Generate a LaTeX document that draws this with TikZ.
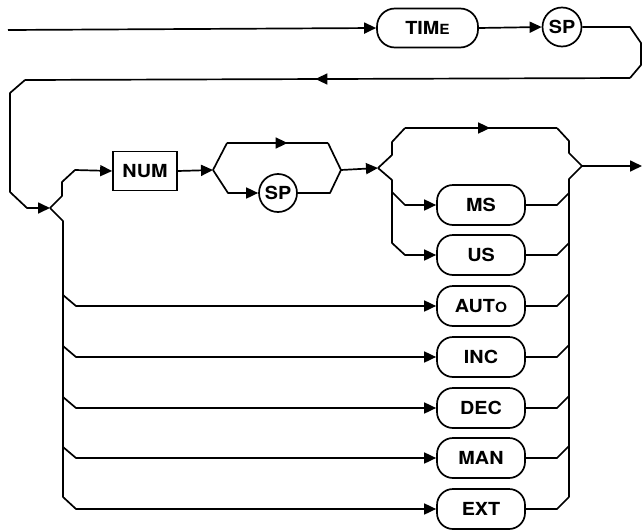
\documentclass[tikz,border=0pt]{standalone}
\usepackage{fontspec}
\newfontfamily\hv[FakeStretch=1.1]{TeX Gyre Heros}
\usetikzlibrary{arrows.meta,decorations.markings}
\newcommand{\smallcap}[1]{{\fontsize{14}{14}\selectfont #1}}
\tikzset{
  ln/.style={line width=1.7pt, line join=round},
  tip/.style={-{Triangle[length=12pt,width=11pt]}},
  midarrow/.style={postaction={decorate},decoration={markings,mark=at position #1 with {\arrow{Triangle[length=12pt,width=11pt]}}}},
  kw/.style={draw, line width=1.7pt, rounded corners=16pt, minimum width=88pt, minimum height=40pt, inner sep=0pt, font=\hv\bfseries\fontsize{18}{18}\selectfont},
  rbox/.style={draw, line width=1.7pt, minimum width=64pt, minimum height=39pt, inner sep=0pt, font=\hv\bfseries\fontsize{18}{18}\selectfont},
  spc/.style={draw, circle, line width=1.7pt, minimum size=39pt, inner sep=0pt, font=\hv\bfseries\fontsize{18}{18}\selectfont},
}
\begin{document}
\begin{tikzpicture}[x=1pt,y=-1pt]
\useasboundingbox (0,0) rectangle (642,530);
% nodes
\node[kw, minimum width=101pt, minimum height=39pt, rounded corners=18pt] (time) at (427.5,28) {TIM\smallcap{E}};
\node[spc] (sp1) at (562,27) {SP};
\node[rbox] (num) at (145,171) {NUM};
\node[spc, minimum size=38pt] (sp2) at (278,193) {SP};
\node[kw] (ms) at (481,205) {MS};
\node[kw] (us) at (481,255) {US};
\node[kw] (auto) at (481,306) {AUT\smallcap{O}};
\node[kw] (inc) at (481,357) {INC};
\node[kw] (dec) at (481,408) {DEC};
\node[kw] (man) at (481,458) {MAN};
\node[kw] (ext) at (481,509) {EXT};
% coordinates
\coordinate (start) at (8,30);
\coordinate (j1) at (50,208);
\coordinate (j2) at (213,170);
\coordinate (j3) at (378,168);
\coordinate (j4) at (582,166);
\coordinate (out) at (642,166);
% top line
\draw[ln,tip] (start) -- (time.west);
\draw[ln,tip] (time.east) -- (sp1.west);
\draw[ln] (sp1.east) -- (630,27) -- (641,43) -- (641,65) -- (630,78);
\draw[ln,midarrow=0.52] (630,78) -- (25,80);
\draw[ln,tip] (25,80) -- (10,93) -- (10,192) -- (27,208) -- (j1);
% left fork
\draw[ln,tip] (j1) -- (62,196) -- (62,182) -- (75,170) -- (num.west);
\draw[ln,tip] (j1) -- (63,221) -- (63,497) -- (76,509) -- (ext.west);
\foreach \n/\y in {auto/306,inc/357,dec/408,man/458}{
  \draw[ln,tip] (63,\y-11) -- (76,\y) -- (\n.west);
}
% NUM to SP loop
\draw[ln,tip] (num.east) -- (j2);
\draw[ln] (j2) -- (227,143);
\draw[ln,midarrow=0.6] (227,143) -- (328,143);
\draw[ln] (328,143) -- (341,170);
\draw[ln,tip] (j2) -- (228,193) -- (sp2.west);
\draw[ln] (sp2.east) -- (330,193) -- (341,170);
\draw[ln,tip] (341,170) -- (j3);
% unit loop
\draw[ln] (j3) -- (392,155) -- (392,142) -- (405,128);
\draw[ln,midarrow=0.56] (405,128) -- (557,128);
\draw[ln] (557,128) -- (569,141) -- (569,153) -- (j4);
\draw[ln,tip] (j3) -- (392,180) -- (392,192) -- (405,205) -- (ms.west);
\draw[ln,tip] (392,192) -- (392,243) -- (405,255) -- (us.west);
\draw[ln] (j4) -- (569,179) -- (569,497);
\foreach \n/\y in {ms/205,us/255,auto/306,inc/357,dec/408,man/458,ext/509}{
  \draw[ln] (\n.east) -- (557,\y) -- (569,\y-12);
}
\draw[ln,tip] (j4) -- (out);
\end{tikzpicture}
\end{document}
